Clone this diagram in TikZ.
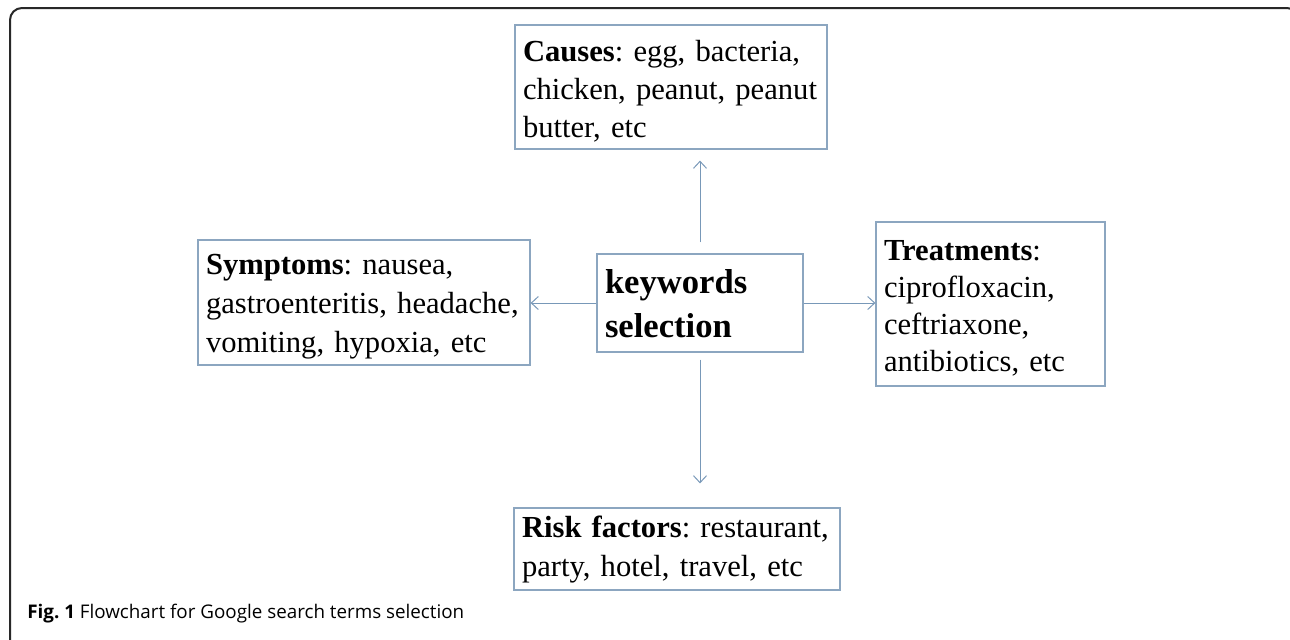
\documentclass[tikz,border=0pt]{standalone}
\usepackage{fontspec}
\setmainfont{Liberation Serif}
\newfontfamily\capfont{Open Sans}
\usetikzlibrary{arrows.meta}
\definecolor{boxc}{RGB}{140,166,192}
\definecolor{arrc}{RGB}{120,152,184}
\definecolor{framec}{RGB}{40,40,40}
\frenchspacing
\begin{document}
\begin{tikzpicture}[x=0.5pt,y=-0.5pt,
  box/.style={draw=boxc, line width=0.6pt, rectangle, inner xsep=4pt, inner ysep=0pt, align=left, anchor=center},
  txt/.style={font=\fontsize{15.3}{#1}\selectfont},
  arr/.style={draw=arrc, line width=0.5pt, -{Straight Barb[length=3.5pt,width=6.5pt]}},
  frame/.style={draw=framec, line width=1pt, rounded corners=6pt}]
\useasboundingbox (0,0) rectangle (1290,639);
\begin{scope}
\clip (0,0) rectangle (1290,639);
\draw[frame] (10,646) -- (10,8) -- (1299,8) -- (1299,646);
\end{scope}

\node[box, txt=19pt, text width=148pt, text height=18pt, text depth=44pt] (causes) at (671,87)
  {\textbf{Causes}: egg, bacteria,\\ chicken, peanut, peanut\\ butter, etc};
\node[box, txt=19.5pt, text width=158pt, text height=17pt, text depth=45.5pt] (sym) at (364,302.5)
  {\textbf{Symptoms}: nausea,\\ gastroenteritis, headache,\\ vomiting, hypoxia, etc};
\node[box, font=\fontsize{17.3}{22}\selectfont\bfseries, text width=95pt, text height=19.5pt, text depth=29.5pt] (kw) at (700,303)
  {keywords\\ selection};
\node[box, txt=18.5pt, text width=106.5pt, text height=19pt, text depth=63pt] (treat) at (990.5,304)
  {\textbf{Treatments}:\\ ciprofloxacin,\\ ceftriaxone,\\ antibiotics, etc};
\node[box, txt=19.5pt, text width=155pt, text height=14.5pt, text depth=26.5pt] (risk) at (677,549)
  {\textbf{Risk factors}: restaurant,\\ party, hotel, travel, etc};

\draw[arr, shorten <=5.5pt, shorten >=5.5pt] (kw.north) -- (kw.north |- causes.south);
\draw[arr, shorten <=3.5pt, shorten >=12pt] (kw.south) -- (kw.south |- risk.north);
\draw[arr] (kw.west) -- (kw.west -| sym.east);
\draw[arr] (kw.east) -- (kw.east -| treat.west);

\node[anchor=base west, inner sep=0pt, font=\capfont\fontsize{9.4}{11}\selectfont] (cap) at (27,618)
  {\textbf{Fig. 1} Flowchart for Google search terms selection};
\end{tikzpicture}
\end{document}
